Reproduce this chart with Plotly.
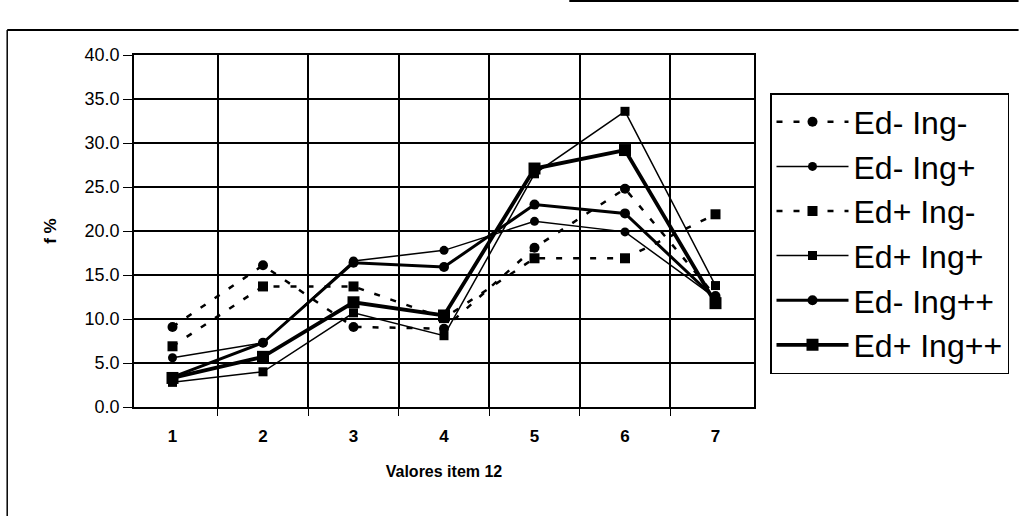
import plotly.graph_objects as go

categories = ["1", "2", "3", "4", "5", "6", "7"]
series_names = ["Ed- Ing-", "Ed- Ing+", "Ed+ Ing-", "Ed+ Ing+", "Ed- Ing++", "Ed+ Ing++"]
ed_m_ing_m = [9.1, 16.1, 9.1, 8.9, 18.1, 24.8, 12.6]
ed_m_ing_p = [5.6, 7.3, 16.6, 17.8, 21.1, 19.9, 12.4]
ed_p_ing_m = [6.9, 13.7, 13.7, 10.1, 16.9, 16.9, 21.9]
ed_p_ing_p = [2.8, 4.0, 10.7, 8.1, 26.5, 33.6, 13.8]
ed_m_ing_pp = [3.4, 7.3, 16.4, 15.9, 23.0, 22.0, 12.3]
ed_p_ing_pp = [3.3, 5.7, 11.9, 10.4, 27.1, 29.2, 11.8]
y_ticks = [0, 5, 10, 15, 20, 25, 30, 35, 40]

values = [ed_m_ing_m, ed_m_ing_p, ed_p_ing_m, ed_p_ing_p, ed_m_ing_pp, ed_p_ing_pp]
styles = [
    dict(dash="6px,11px", width=2.5, symbol="circle", size=10),
    dict(dash="solid", width=1.5, symbol="circle", size=9),
    dict(dash="6px,11px", width=2.5, symbol="square", size=10),
    dict(dash="solid", width=1.5, symbol="square", size=9),
    dict(dash="solid", width=3, symbol="circle", size=10),
    dict(dash="solid", width=3.8, symbol="square", size=12),
]

fig = go.Figure()
for name, vals, st in zip(series_names, values, styles):
    fig.add_trace(go.Scatter(
        x=categories, y=vals, name=name, mode="lines+markers",
        line=dict(color="black", width=st["width"], dash=st["dash"]),
        marker=dict(color="black", symbol=st["symbol"], size=st["size"]),
    ))

L, R, T, B = 134, 265, 55, 109
W, H = 1020, 516
pw, ph = W - L - R, H - T - B

def px_x(px):
    return (px - L) / pw

def px_y(py):
    return (H - B - py) / ph

fig.update_layout(
    width=W, height=H,
    margin=dict(l=L, r=R, t=T, b=B, pad=0),
    paper_bgcolor="white", plot_bgcolor="white",
    font=dict(family="Liberation Sans, Arial, sans-serif", color="black"),
    showlegend=True,
    legend=dict(
        x=px_x(770), y=px_y(93), xanchor="left", yanchor="top",
        bordercolor="black", borderwidth=1.5, bgcolor="white",
        font=dict(size=32, family="Liberation Sans, Arial, sans-serif", color="black"),
        itemwidth=72, tracegroupgap=0,
    ),
    xaxis=dict(
        type="category", categoryorder="array", categoryarray=categories,
        tickson="boundaries", showgrid=True, gridcolor="black", gridwidth=1.5,
        showline=True, linecolor="black", linewidth=1.5, mirror=True,
        ticks="outside", ticklen=7, tickcolor="black", tickwidth=1,
        tickfont=dict(size=17, weight="bold"), ticklabelstandoff=13,
        title=dict(text="Valores item 12", font=dict(size=16, weight="bold"), standoff=21),
        zeroline=False,
    ),
    yaxis=dict(
        range=[0, 40], tickvals=y_ticks, tickformat=".1f",
        showgrid=True, gridcolor="black", gridwidth=1.5,
        showline=True, linecolor="black", linewidth=1.5, mirror=True,
        ticks="outside", ticklen=9, tickcolor="black", tickwidth=1,
        tickfont=dict(size=18),
        title=dict(text="f %", font=dict(size=17, weight="bold"), standoff=24),
        zeroline=False,
    ),
    shapes=[
        dict(type="line", xref="paper", yref="paper", x0=px_x(7), x1=px_x(1020),
             y0=px_y(30), y1=px_y(30), line=dict(color="black", width=2)),
        dict(type="line", xref="paper", yref="paper", x0=px_x(7), x1=px_x(7),
             y0=px_y(30), y1=px_y(516), line=dict(color="black", width=1.5)),
        dict(type="line", xref="paper", yref="paper", x0=px_x(570), x1=px_x(1020),
             y0=px_y(1), y1=px_y(1), line=dict(color="black", width=2)),
    ],
)

fig.write_html(
    "out.html",
    config={"displayModeBar": False},
    post_script="document.body.style.margin='0';document.body.style.overflow='hidden';",
)
